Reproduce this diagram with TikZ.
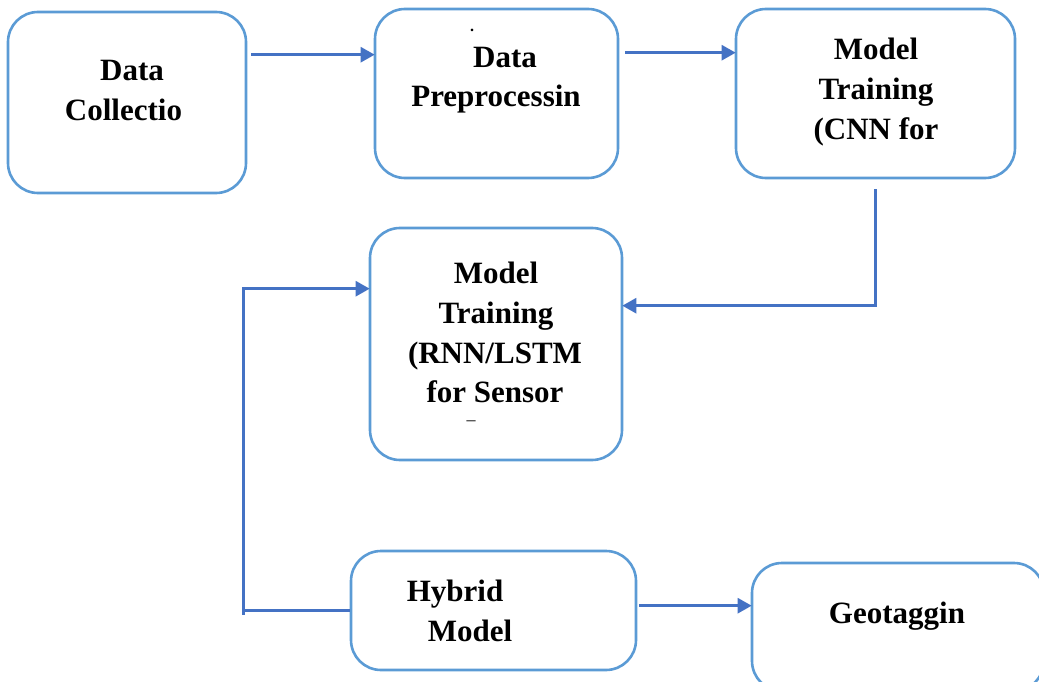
\documentclass[tikz,border=0pt]{standalone}
\usepackage{fontspec}
\setmainfont{Liberation Serif}
\usetikzlibrary{arrows.meta,calc}
\definecolor{boxblue}{RGB}{91,155,213}
\definecolor{arrblue}{RGB}{68,114,196}
\begin{document}
\begin{tikzpicture}[x=1pt,y=-1pt,
  box/.style={draw=boxblue,line width=2.6pt,rounded corners=30pt,fill=white,inner sep=0pt},
  lbl/.style={anchor=base,inner sep=0pt,font=\fontsize{31}{40}\selectfont\bfseries},
  arr/.style={draw=arrblue,line width=2.6pt,-{Triangle[length=14pt,width=15pt]}},
  ln/.style={draw=arrblue,line width=2.6pt}]
\useasboundingbox (0,0) rectangle (1039,682);
\clip (0,0) rectangle (1039,682);
% boxes
\node[box,minimum width=238pt,minimum height=181pt] (col) at (127,102.5) {};
\node[box,minimum width=243pt,minimum height=169pt] (pre) at (496.5,93.5) {};
\node[box,minimum width=279pt,minimum height=169pt] (cnn) at (875.5,93.5) {};
\node[box,minimum width=252pt,minimum height=232pt] (rnn) at (496,344) {};
\node[box,minimum width=285pt,minimum height=119pt] (hyb) at (493.5,610.5) {};
\node[box,minimum width=292pt,minimum height=128pt] (geo) at (898,627) {};
% labels
\node[lbl] (col1) at (132,81) {Data};
\node[lbl] (col2) at (123.5,121) {Collectio};
\node[anchor=center,inner sep=0pt,font=\fontsize{16}{16}\selectfont\bfseries] (dot) at (472,30) {.};
\node[lbl] (pre1) at (505,68) {Data};
\node[lbl] (pre2) at (496,107) {Preprocessin};
\node[lbl] (cnn1) at (876,60) {Model};
\node[lbl] (cnn2) at (876,100) {Training};
\node[lbl] (cnn3) at (876,140) {(CNN for};
\node[lbl] (rnn1) at (496,283) {Model};
\node[lbl] (rnn2) at (496,323) {Training};
\node[lbl] (rnn3) at (495,363) {(RNN/LSTM};
\node[lbl] (rnn4) at (495,402) {for Sensor};
\node[anchor=base,inner sep=0pt,font=\fontsize{18}{18}\selectfont] (dash) at (471,425) {–};
\node[lbl] (hyb1) at (455,601) {Hybrid};
\node[lbl] (hyb2) at (470,641) {Model};
\node[lbl] (geo1) at (897,623) {Geotaggin};
% connectors
\draw[arr] ([shift={(4,44)}]col.north east) -- ([shift={(1,47)}]pre.north west);
\draw[arr] ([shift={(6,45)}]pre.north east) -- ([shift={(1,45)}]cnn.north west);
\draw[arr] ([shift={(0,10)}]cnn.south) |- ([shift={(-1,79)}]rnn.north east);
\draw[arr] ([shift={(0,61)}]hyb.north west) -- ++(-106,0) |- ([shift={(1,62)}]rnn.north west);
\coordinate (vtail) at ([shift={(-106,65)}]hyb.north west);
\draw[ln] ([shift={(-106,61)}]hyb.north west) -- (vtail);
\draw[arr] ([shift={(2,56)}]hyb.north east) -- ([shift={(1,44)}]geo.north west);
\end{tikzpicture}
\end{document}
